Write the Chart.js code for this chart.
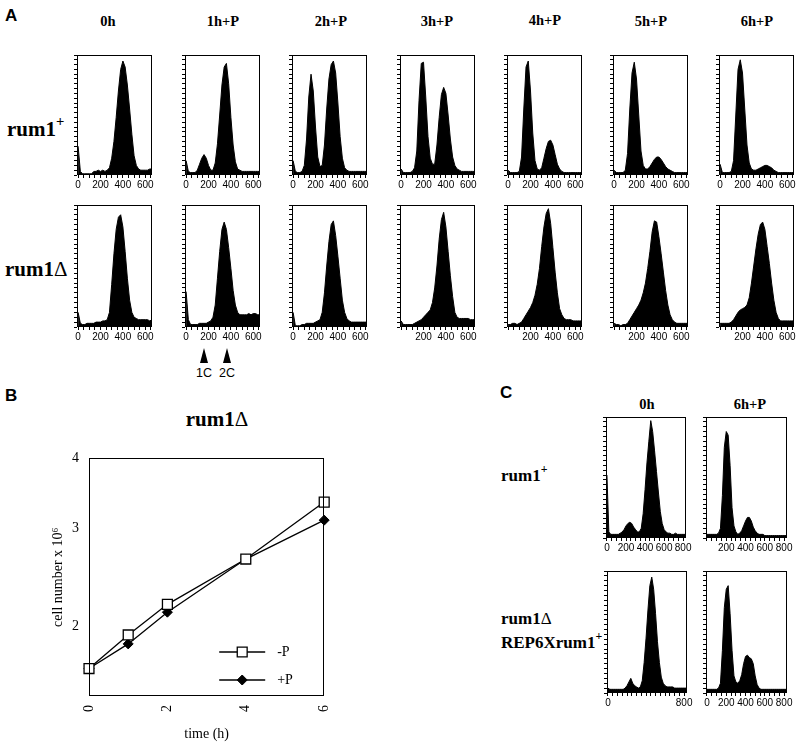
<!DOCTYPE html>
<html>
<head>
<meta charset="utf-8">
<script src="https://cdn.jsdelivr.net/npm/chart.js@4.4.1/dist/chart.umd.min.js"></script>
<style>
  html, body { margin: 0; padding: 0; background: #fff; }
  #fig { position: relative; width: 800px; height: 744px; overflow: hidden; color: #000; }
  #fig canvas { position: absolute; }
  .t { position: absolute; white-space: nowrap; line-height: 1; }
  .panel { font: bold 17px "Liberation Sans", Arial, sans-serif; }
  .col { font: bold 14.5px "Liberation Serif", "Times New Roman", serif; width: 80px; text-align: center; }
  .row { font: bold 21px "Liberation Serif", "Times New Roman", serif; }
  .rowc { font: bold 17px "Liberation Serif", "Times New Roman", serif; }
  .cc { font: 12.5px "Liberation Sans", Arial, sans-serif; width: 30px; text-align: center; }
  sup { font-size: 0.7em; line-height: 0; vertical-align: 0.7em; }
  .dl { font-weight: normal; }
  .arrow { position: absolute; width: 0; height: 0; border-left: 4px solid transparent;
           border-right: 4px solid transparent; border-bottom: 15px solid #000; }
</style>
</head>
<body>
<div id="fig">
  <div class="t panel" style="left:5px;top:6px">A</div>
  <div class="t panel" style="left:5px;top:386px">B</div>
  <div class="t panel" style="left:500px;top:383px">C</div>

  <div class="t col" style="left:68px;top:13px">0h</div>
  <div class="t col" style="left:183px;top:13px">1h+P</div>
  <div class="t col" style="left:291px;top:13px">2h+P</div>
  <div class="t col" style="left:397px;top:13px">3h+P</div>
  <div class="t col" style="left:505px;top:12px">4h+P</div>
  <div class="t col" style="left:611px;top:13px">5h+P</div>
  <div class="t col" style="left:717px;top:13px">6h+P</div>

  <div class="t row" style="left:7px;top:117px">rum1<sup>+</sup></div>
  <div class="t row" style="left:5px;top:257px">rum1<span class="dl">Δ</span></div>

  <div class="arrow" style="left:200px;top:348px"></div>
  <div class="arrow" style="left:223px;top:348px"></div>
  <div class="t cc" style="left:189px;top:366px">1C</div>
  <div class="t cc" style="left:212px;top:366px">2C</div>

  <div class="t row" style="left:157px;top:407px;width:120px;text-align:center">rum1<span class="dl">Δ</span></div>

  <div class="t col" style="left:607px;top:396px">0h</div>
  <div class="t col" style="left:710px;top:396px">6h+P</div>
  <div class="t rowc" style="left:501px;top:466px">rum1<sup>+</sup></div>
  <div class="t rowc" style="left:501px;top:609px">rum1<span class="dl">Δ</span></div>
  <div class="t rowc" style="left:501px;top:633px">REP6Xrum1<sup>+</sup></div>
</div>
<script>
"use strict";

/* ── bins, ticks and labels ─────────────────────────────────── */
const BINS_A = [0, 20, 40, 60, 80, 100, 120, 140, 160, 180, 200, 220, 240, 260, 280, 300, 320,
                340, 360, 380, 400, 420, 440, 460, 480, 500, 520, 540, 560, 580, 600, 620, 640, 660];
const BINS_C = [0, 20, 40, 60, 80, 100, 120, 140, 160, 180, 200, 220, 240, 260, 280, 300, 320,
                340, 360, 380, 400, 420, 440, 460, 480, 500, 520, 540, 560, 580, 600, 620, 640, 660,
                680, 700, 720, 740, 760, 780, 800, 820];
const TICKS_A = [0, 50, 100, 150, 200, 250, 300, 350, 400, 450, 500, 550, 600, 650];
const TICKS_C = [0, 50, 100, 150, 200, 250, 300, 350, 400, 450, 500, 550, 600, 650, 700, 750, 800];
const TICKS_Y = [0, 4, 8, 12, 16, 20, 24, 28, 32, 36, 40, 44, 48, 52, 56, 60, 64, 68, 72, 76, 80, 84, 88, 92, 96, 100];
const LBL_A = [0, 200, 400, 600];
const LBL_A_NO0 = [200, 400, 600];
const LBL_C = [0, 200, 400, 600, 800];
const LBL_C_NO0 = [200, 400, 600, 800];
const LBL_C_ENDS = [0, 800];

/* ── panel A, rum1+ (cells per bin, % of frame height) ──────── */
const WT_0H = [24, 3, 1, 1, 1, 1, 1, 3, 3, 4, 3, 4, 3, 4, 6, 14, 28, 48, 70, 88, 95, 90, 75, 55, 34, 16, 8, 5, 4, 4, 4, 4, 5, 5];
const WT_1H = [12, 3, 2, 2, 2, 4, 9, 14, 17, 14, 8, 4, 4, 10, 26, 50, 75, 90, 93, 76, 48, 25, 11, 5, 4, 3, 3, 3, 3, 3, 3, 3, 3, 3];
const WT_2H = [12, 3, 2, 2, 3, 8, 30, 65, 84, 70, 40, 15, 7, 8, 25, 55, 80, 92, 95, 85, 60, 32, 14, 6, 4, 3, 3, 3, 3, 3, 3, 3, 3, 3];
const WT_3H = [5, 2, 2, 2, 2, 3, 6, 20, 62, 93, 94, 65, 32, 14, 9, 9, 25, 48, 67, 73, 68, 50, 30, 15, 8, 5, 4, 3, 3, 3, 3, 3, 3, 3];
const WT_4H = [4, 2, 2, 2, 2, 3, 15, 55, 90, 95, 70, 35, 12, 5, 4, 6, 14, 22, 28, 29, 25, 17, 9, 5, 3, 2, 2, 2, 2, 2, 2, 2, 2, 2];
const WT_5H = [4, 2, 2, 2, 2, 4, 18, 55, 85, 94, 80, 50, 20, 8, 5, 5, 7, 10, 13, 15, 15, 13, 10, 7, 5, 4, 3, 2, 2, 2, 2, 2, 2, 2];
const WT_6H = [9, 2, 2, 2, 2, 3, 12, 50, 88, 96, 85, 55, 25, 10, 5, 4, 4, 5, 6, 7, 8, 8, 7, 6, 4, 3, 2, 2, 2, 2, 2, 2, 2, 2];

/* ── panel A, rum1Δ ─────────────────────────────────────────── */
const DEL_0H = [12, 3, 2, 2, 3, 3, 3, 3, 4, 4, 4, 5, 5, 6, 12, 35, 60, 80, 90, 92, 82, 62, 40, 22, 12, 8, 7, 6, 6, 6, 6, 6, 5, 6];
const DEL_1H = [29, 6, 2, 2, 2, 2, 3, 3, 3, 3, 4, 5, 8, 18, 40, 62, 80, 86, 80, 65, 48, 30, 18, 12, 10, 10, 10, 10, 11, 10, 11, 11, 10, 10];
const DEL_2H = [12, 1, 1, 1, 2, 2, 3, 3, 3, 3, 4, 5, 6, 12, 28, 50, 70, 84, 87, 75, 58, 40, 22, 12, 7, 5, 4, 4, 4, 4, 4, 4, 4, 4];
const DEL_3H = [5, 2, 2, 2, 2, 2, 3, 4, 5, 6, 8, 10, 12, 14, 20, 32, 50, 72, 88, 94, 82, 62, 42, 25, 12, 8, 7, 7, 7, 7, 7, 6, 6, 6];
const DEL_4H = [2, 2, 3, 3, 2, 3, 4, 7, 10, 13, 16, 20, 26, 35, 48, 66, 82, 93, 97, 85, 65, 45, 28, 15, 10, 7, 6, 6, 6, 5, 5, 5, 5, 5];
const DEL_5H = [3, 2, 2, 1, 2, 2, 3, 6, 9, 12, 15, 18, 22, 28, 36, 48, 62, 78, 87, 86, 74, 60, 45, 30, 18, 10, 6, 4, 3, 3, 3, 3, 3, 3];
const DEL_6H = [3, 3, 3, 3, 3, 4, 6, 9, 12, 14, 15, 16, 18, 24, 36, 50, 64, 76, 84, 86, 80, 66, 52, 36, 22, 12, 7, 5, 5, 5, 5, 5, 5, 5];

/* ── panel C ────────────────────────────────────────────────── */
const C_WT_0H = [52, 5, 3, 3, 3, 3, 3, 4, 5, 7, 10, 12, 13, 12, 9, 7, 5, 5, 8, 20, 40, 62, 80, 97, 88, 72, 55, 38, 22, 12,
                 7, 5, 4, 4, 3, 3, 4, 3, 3, 3, 3, 3];
const C_WT_6H = [3, 3, 3, 3, 3, 3, 4, 8, 35, 75, 88, 85, 60, 25, 10, 5, 3, 4, 6, 10, 14, 17, 17, 14, 9, 6, 4, 3, 3, 3,
                 2, 2, 2, 2, 2, 2, 2, 2, 2, 2, 2, 2];
const C_REP_0H = [4, 3, 3, 3, 3, 3, 3, 3, 3, 4, 6, 9, 12, 8, 6, 5, 4, 5, 10, 25, 45, 68, 88, 95, 85, 65, 42, 25, 13, 8,
                  6, 5, 5, 5, 5, 4, 4, 4, 4, 4, 4, 4];
const C_REP_6H = [3, 3, 3, 3, 3, 3, 4, 8, 35, 70, 85, 88, 65, 35, 14, 9, 8, 10, 15, 24, 30, 31, 29, 28, 24, 14, 7, 4, 3, 3,
                  3, 3, 3, 3, 3, 3, 3, 3, 3, 3, 3, 3];

/* ── panel B: growth of rum1Δ ───────────────────────────────── */
const TIME_H = [0, 1, 2, 4, 6];
const CELLS_MINUS_P = [1.68, 1.93, 2.19, 2.64, 3.34];
const CELLS_PLUS_P = [1.68, 1.86, 2.12, 2.64, 3.10];
const B_X_TICKS = [0, 2, 4, 6];
const B_Y_TICKS = [2, 3, 4];

const FIG = document.getElementById("fig");
const SANS = '"Liberation Sans Narrow", "Liberation Sans", Arial, sans-serif';
const SERIF = '"Liberation Serif", "Times New Roman", serif';

Chart.defaults.color = "#000";

/* closed box round the plot area */
const frame = {
  id: "frame",
  afterDatasetsDraw(chart) {
    const a = chart.chartArea, c = chart.ctx;
    c.save();
    c.strokeStyle = "#000";
    c.lineWidth = 1;
    c.strokeRect(Math.round(a.left) + 0.5, Math.round(a.top) + 0.5,
                 Math.round(a.right - a.left) - 1, Math.round(a.bottom - a.top) - 1);
    c.restore();
  },
};

function canvasAt(x, y, w, h) {
  const cv = document.createElement("canvas");
  cv.width = w; cv.height = h;
  cv.style.left = x + "px"; cv.style.top = y + "px";
  FIG.appendChild(cv);
  return cv;
}

/* one DNA-content histogram; box = plot frame on the page */
function hist(box, bins, counts, xTicks, xLabels, xMax) {
  const pl = 9, pt = 3, pr = 11, pb = 17;
  const cv = canvasAt(box.x - pl, box.y - pt, box.w + pl + pr, box.h + pt + pb);
  new Chart(cv, {
    type: "line",
    data: {
      datasets: [{
        data: bins.map((x, i) => ({ x, y: counts[i] })),
        fill: "origin", backgroundColor: "#000", borderColor: "#000",
        borderWidth: 1, pointRadius: 0, tension: 0,
      }],
    },
    options: {
      responsive: false, animation: false, events: [],
      layout: { padding: { left: 0, top: pt, right: pr, bottom: 0 } },
      plugins: { legend: { display: false }, tooltip: { enabled: false } },
      scales: {
        x: {
          type: "linear", min: -10, max: xMax,
          afterBuildTicks: (s) => { s.ticks = xTicks.map(v => ({ value: v })); },
          afterFit: (s) => { s.height = pb; },
          ticks: { autoSkip: false, minRotation: 0, maxRotation: 0, padding: 1,
                   font: { family: SANS, size: 10 },
                   callback: (v) => xLabels.includes(v) ? String(v) : "" },
          grid: { drawOnChartArea: false, drawTicks: true, tickLength: 3, color: "#000" },
          border: { display: false },
        },
        y: {
          min: 0, max: 100,
          afterBuildTicks: (s) => { s.ticks = TICKS_Y.map(v => ({ value: v })); },
          afterFit: (s) => { s.width = pl; },
          ticks: { display: false },
          grid: { drawOnChartArea: false, drawTicks: true, tickLength: 3, color: "#000" },
          border: { display: false },
        },
      },
    },
    plugins: [frame],
  });
}

/* ── panel A grid ───────────────────────────────────────────── */
const COL_X = [77, 185, 292, 400, 507, 613, 719];
const ROW1 = [WT_0H, WT_1H, WT_2H, WT_3H, WT_4H, WT_5H, WT_6H];
const ROW2 = [DEL_0H, DEL_1H, DEL_2H, DEL_3H, DEL_4H, DEL_5H, DEL_6H];
ROW1.forEach((d, i) => hist({ x: COL_X[i], y: 55, w: 75, h: 120 }, BINS_A, d, TICKS_A, LBL_A, 660));
ROW2.forEach((d, i) => hist({ x: COL_X[i], y: 205, w: 75, h: 122 }, BINS_A, d, TICKS_A,
                            i < 3 ? LBL_A : LBL_A_NO0, 660));

/* ── panel C ────────────────────────────────────────────────── */
hist({ x: 606, y: 417, w: 80, h: 121 }, BINS_C, C_WT_0H, TICKS_C, LBL_C, 830);
hist({ x: 706, y: 417, w: 81, h: 121 }, BINS_C, C_WT_6H, TICKS_C, LBL_C_NO0, 830);
hist({ x: 607, y: 571, w: 80, h: 122 }, BINS_C, C_REP_0H, TICKS_C, LBL_C_ENDS, 830);
hist({ x: 706, y: 571, w: 81, h: 122 }, BINS_C, C_REP_6H, TICKS_C, LBL_C, 830);

/* ── panel B: line chart on a log axis ──────────────────────── */
const legendB = {
  id: "legendB",
  afterDatasetsDraw(chart) {
    const a = chart.chartArea, c = chart.ctx;
    chart.data.datasets.forEach((ds, i) => {
      const y = a.bottom - (i === 0 ? 44 : 16);
      const x0 = a.right - 105, x1 = a.right - 59, m = (x0 + x1) / 2;
      c.save();
      c.strokeStyle = "#000";
      c.lineWidth = ds.borderWidth;
      c.beginPath(); c.moveTo(x0, y); c.lineTo(x1, y); c.stroke();
      c.fillStyle = ds.pointBackgroundColor;
      c.lineWidth = ds.pointBorderWidth;
      c.beginPath();
      if (ds.pointStyle === "rect") {
        const s = ds.pointRadius * Math.SQRT1_2;
        c.rect(m - s, y - s, 2 * s, 2 * s);
      } else {
        const r = ds.pointRadius;
        c.moveTo(m, y - r); c.lineTo(m + r, y); c.lineTo(m, y + r); c.lineTo(m - r, y); c.closePath();
      }
      c.fill(); c.stroke();
      c.font = "14px " + SERIF;
      c.fillStyle = "#000";
      c.textBaseline = "middle";
      c.fillText(ds.label, a.right - 47, y);
      c.restore();
    });
  },
};

(function () {
  const cv = canvasAt(30, 440, 320, 304);
  new Chart(cv, {
    type: "line",
    data: {
      datasets: [
        { label: "-P", data: TIME_H.map((x, i) => ({ x, y: CELLS_MINUS_P[i] })),
          borderColor: "#000", borderWidth: 1.3, pointStyle: "rect", pointRadius: 7,
          pointBackgroundColor: "#fff", pointBorderColor: "#000", pointBorderWidth: 1.3,
          fill: false, tension: 0, clip: false },
        { label: "+P", data: TIME_H.map((x, i) => ({ x, y: CELLS_PLUS_P[i] })),
          borderColor: "#000", borderWidth: 1.3, pointStyle: "rectRot", pointRadius: 5,
          pointBackgroundColor: "#000", pointBorderColor: "#000", pointBorderWidth: 1,
          fill: false, tension: 0, clip: false },
      ],
    },
    options: {
      responsive: false, animation: false, events: [],
      layout: { padding: { left: 0, top: 12, right: 23, bottom: 0 } },
      plugins: { legend: { display: false }, tooltip: { enabled: false } },
      scales: {
        x: {
          type: "linear", min: 0, max: 6,
          afterBuildTicks: (s) => { s.ticks = B_X_TICKS.map(v => ({ value: v })); },
          afterFit: (s) => { s.height = 48; },
          ticks: { autoSkip: false, minRotation: 90, maxRotation: 90, padding: 9,
                   font: { family: SERIF, size: 14 } },
          grid: { display: false, drawTicks: false },
          border: { display: false },
          title: { display: true, text: "time (h)", font: { family: SERIF, size: 14 },
                   padding: { top: 0, bottom: 1 } },
        },
        y: {
          type: "logarithmic", min: 1.5, max: 4,
          afterBuildTicks: (s) => { s.ticks = B_Y_TICKS.map(v => ({ value: v })); },
          afterFit: (s) => { s.width = 59; },
          ticks: { padding: 10, font: { family: SERIF, size: 14 }, callback: (v) => String(v) },
          grid: { display: false, drawTicks: false },
          border: { display: false },
          title: { display: true, text: "cell number x 10\u2076", font: { family: SERIF, size: 14 },
                   padding: { top: 20, bottom: 0 } },
        },
      },
    },
    plugins: [frame, legendB],
  });
})();
</script>
</body>
</html>
